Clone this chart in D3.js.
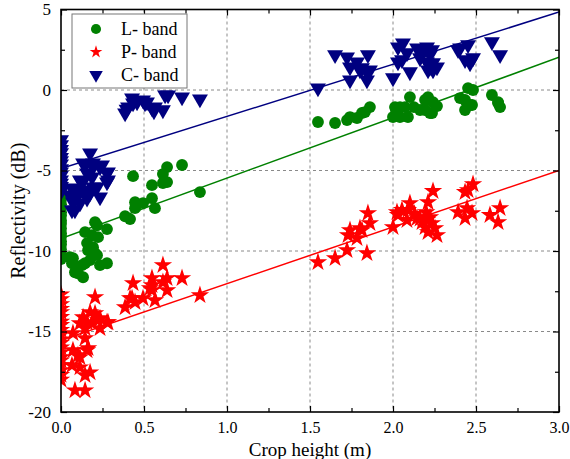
<!DOCTYPE html>
<html><head><meta charset="utf-8">
<script src="https://cdn.jsdelivr.net/npm/d3@7"></script>
<style>body{margin:0;background:#fff}svg{display:block}svg text{font-family:"Liberation Serif","Times New Roman",Times,serif !important}</style>
</head><body><svg id="c" width="570" height="459"></svg>
<script>
const bands = ["L- band", "P- band", "C- band"];
const bandColors = ["#008000", "#ff0000", "#000080"];
const fitIntercepts = [-9.22, -15.55, -4.88];
const fitSlopes = [3.75, 3.52, 3.24];
const xTickLabels = ["0.0","0.5","1.0","1.5","2.0","2.5","3.0"];
const yTickLabels = ["-20","-15","-10","-5","0","5"];

const lBand = [
 [0,-6.3],[0,-6.6],[0,-6.8],[0,-7.1],[0,-7.3],[0,-7.6],[0,-7.8],[0,-8.1],[0,-8.3],[0,-8.6],[0,-8.9],[0,-9.1],[0,-9.4],[0,-9.6],[0,-9.9],[0,-10.2],[0,-10.5],
 [0.205,-8.21],[0.277,-8.64],[0.145,-8.83],[0.187,-9.02],[0.223,-9.14],[0.157,-9.51],[0.163,-9.95],[0.205,-10.14],[0.072,-10.45],[0.096,-11.01],[0.127,-10.88],[0.175,-10.57],[0.235,-10.88],[0.277,-10.76],[0.084,-11.32],[0.133,-11.63],[0.102,-11.38],[0.066,-10.76],[0.217,-8.40],[0.193,-9.76],[0.217,-10.26],[0.054,-10.39],[0.145,-10.76],
 [0.434,-5.35],[0.639,-4.79],[0.614,-5.22],[0.729,-4.66],[0.548,-5.91],[0.614,-5.78],[0.639,-5.72],[0.837,-6.34],[0.446,-6.97],[0.494,-7.03],[0.548,-6.72],[0.446,-7.34],[0.566,-7.34],[0.386,-7.84],[0.416,-8.02],
 [1.548,-1.99],[1.651,-2.05],[1.723,-1.87],[1.741,-1.68],[1.783,-1.74],[1.813,-1.43],[1.861,-1.06],[1.831,-1.37],[2.012,-1.06],[2.0,-1.68],[2.042,-1.68],[2.090,-1.68],[2.102,-0.44],[2.042,-1.06],[2.072,-1.06],[2.163,-1.24],[2.205,-0.62],[2.211,-0.44],[2.241,-0.75],[2.265,-1.0],[2.193,-1.24],[2.235,-1.43],[2.404,-0.50],[2.452,0.12],[2.482,0.0],[2.434,-0.62],[2.464,-0.93],[2.434,-1.24],[2.596,-0.31],[2.633,-0.81],[2.645,-1.06],
 [2.018,-1.24],[2.126,-1.06],[2.193,-0.62],[2.223,-1.43],[2.476,-0.93],[2.633,-0.75]
];
const pBand = [
 [0,-12.7],[0,-13.0],[0,-13.3],[0,-13.6],[0,-13.8],[0,-14.1],[0,-14.4],[0,-14.6],[0,-14.9],[0,-15.2],[0,-15.5],[0,-15.7],[0,-16.0],[0,-16.3],[0,-16.6],[0,-16.8],[0,-17.1],[0,-17.4],[0,-17.7],[0,-18.0],
 [0.205,-12.87],[0.175,-13.81],[0.205,-13.87],[0.133,-14.12],[0.157,-14.43],[0.114,-14.49],[0.187,-14.49],[0.223,-14.30],[0.277,-14.43],[0.235,-14.80],[0.145,-14.80],[0.072,-15.11],[0.145,-15.42],[0.072,-16.17],[0.157,-16.17],[0.102,-16.48],[0.066,-17.10],[0.114,-17.23],[0.175,-17.54],[0.145,-17.72],[0.084,-18.66],[0.145,-18.66],[0.235,-14.18],[0.283,-14.43],[0.114,-16.60],[0.163,-16.04],
 [0.614,-10.88],[0.434,-12.00],[0.548,-11.69],[0.548,-12.13],[0.614,-11.94],[0.639,-11.69],[0.729,-11.69],[0.639,-12.44],[0.548,-12.44],[0.416,-12.94],[0.446,-13.18],[0.494,-12.94],[0.566,-13.06],[0.837,-12.75],[0.386,-13.50],[0.428,-12.94],[0.536,-12.31],
 [1.548,-10.70],[1.651,-10.45],[1.723,-9.95],[1.843,-10.14],[1.741,-8.71],[1.729,-9.02],[1.783,-9.20],[1.801,-8.58],[1.861,-8.27],[2.0,-8.52],[1.849,-7.65],[1.813,-8.71],[2.024,-7.59],[2.054,-7.46],[2.102,-7.03],[2.090,-7.46],[2.084,-8.08],[2.030,-7.77],[2.211,-6.97],[2.241,-6.28],[2.145,-7.96],[2.175,-8.21],[2.205,-8.08],[2.223,-7.90],[2.193,-8.52],[2.235,-8.27],[2.253,-8.58],[2.211,-8.83],[2.265,-9.02],[2.434,-6.34],[2.452,-6.22],[2.482,-5.85],[2.392,-7.59],[2.446,-7.34],[2.476,-7.65],[2.434,-7.96],[2.584,-7.77],[2.645,-7.34],[2.633,-8.21],[2.163,-8.0],[2.20,-7.6],[2.13,-7.7]
];
const cBand = [
 [0,-3.1],[0,-3.4],[0,-3.7],[0,-3.9],[0,-4.2],[0,-4.4],[0,-4.6],[0,-4.9],[0,-5.1],[0,-5.3],[0,-5.6],[0,-5.8],[0,-6.0],[0,-6.3],
 [0.175,-3.92],[0.145,-4.66],[0.193,-4.79],[0.247,-4.66],[0.283,-5.10],[0.277,-5.72],[0.235,-6.65],[0.157,-6.72],[0.114,-6.34],[0.072,-6.72],[0.084,-7.46],[0.054,-6.53],[0.187,-5.41],[0.127,-5.78],[0.217,-6.03],
 [0.133,-4.54],[0.193,-4.54],[0.235,-4.79],[0.277,-5.16],[0.283,-5.60],[0.157,-5.16],[0.114,-5.60],[0.066,-6.10],[0.096,-6.22],[0.133,-6.22],[0.175,-6.40],[0.072,-6.97],[0.066,-7.46],[0.114,-7.03],[0.193,-6.03],
 [0.386,-1.43],[0.428,-0.50],[0.458,-0.75],[0.494,-0.62],[0.518,-0.75],[0.548,-1.12],[0.566,-1.06],[0.614,-1.24],[0.627,-0.31],[0.645,-0.31],[0.729,-0.44],[0.837,-0.56],[0.404,-1.06],[0.506,-0.81],[0.434,-0.81],[0.56,-1.3],[0.395,-1.2],
 [1.548,0.12],[1.651,2.18],[1.723,2.05],[1.783,1.74],[1.741,1.43],[1.801,1.24],[1.849,2.18],[1.861,1.24],[1.741,0.62],[1.843,0.62],[2.0,0.75],[2.030,2.67],[2.060,2.92],[2.030,1.74],[2.102,1.12],[2.145,2.61],[2.181,2.49],[2.205,2.67],[2.235,2.49],[2.163,1.99],[2.205,1.74],[2.223,1.43],[2.241,1.24],[2.265,1.43],[2.392,2.49],[2.452,2.80],[2.434,1.87],[2.482,1.99],[2.464,1.68],[2.596,2.99],[2.645,2.18],
 [1.813,1.37],[1.843,1.12],[2.054,1.87],[2.084,2.30],[2.175,2.36],[2.223,2.18],[2.241,1.68],[2.211,1.24],[2.404,2.61]
];
const seriesData = [lBand, pBand, cBand];

const FONT = '"Liberation Serif","Times New Roman",Times,serif';
const svg = d3.select("#c");
const L = 61, R = 559, T = 9.5, B = 412;
const x = d3.scaleLinear().domain([0, 3]).range([L, R]);
const y = d3.scaleLinear().domain([-20, 5]).range([B, T]);
const xMaj = d3.range(0, 3.001, 0.5), xMin = d3.range(0.25, 3, 0.5);
const yMaj = d3.range(-20, 5.001, 5), yMin = d3.range(-17.5, 5, 5);

svg.append("defs").append("clipPath").attr("id","clip").append("rect")
  .attr("x", L).attr("y", T).attr("width", R - L).attr("height", B - T);

// grid
const grid = svg.append("g").attr("stroke", "#8a8a8a").attr("stroke-dasharray", "3,3").attr("stroke-width", 1);
xMaj.filter(v => v > 0 && v < 3).forEach(v => grid.append("line").attr("x1", x(v)).attr("x2", x(v)).attr("y1", T).attr("y2", B));
yMaj.filter(v => v > -20 && v < 5).forEach(v => grid.append("line").attr("x1", L).attr("x2", R).attr("y1", y(v)).attr("y2", y(v)));

// markers
const symbols = [
  d3.symbol().type(d3.symbolCircle).size(110),
  d3.symbol().type(d3.symbolStar).size(105),
  d3.symbol().type(d3.symbolTriangle).size(110)
];
const plot = svg.append("g").attr("clip-path", "url(#clip)");
seriesData.forEach((data, i) => {
  plot.append("g").selectAll("path").data(data).join("path")
    .attr("d", symbols[i]())
    .attr("fill", bandColors[i])
    .attr("transform", d => `translate(${x(d[0])},${y(d[1])})` + (i === 2 ? " rotate(180)" : ""));
});
// fit lines
bands.forEach((b, i) => {
  plot.append("line")
    .attr("x1", x(0)).attr("y1", y(fitIntercepts[i]))
    .attr("x2", x(3)).attr("y2", y(fitIntercepts[i] + fitSlopes[i] * 3))
    .attr("stroke", bandColors[i]).attr("stroke-width", 1.5);
});

// axes (inward ticks, mirrored)
function ax(gen, tr) {
  const g = svg.append("g").attr("transform", tr).call(gen);
  g.select(".domain").remove();
  g.attr("font-family", FONT);
  g.selectAll("line").attr("stroke", "#000").attr("stroke-width", 1.2);
  return g;
}
const bx = ax(d3.axisBottom(x).tickValues(xMaj).tickSizeInner(-6).tickSizeOuter(0).tickPadding(10).tickFormat((d, i) => xTickLabels[i]), `translate(0,${B})`);
bx.selectAll("text").attr("fill", "#000").style("font-size", "16px").style("font-family", FONT);
ax(d3.axisBottom(x).tickValues(xMin).tickSizeInner(-4).tickSizeOuter(0).tickFormat(""), `translate(0,${B})`);
ax(d3.axisTop(x).tickValues(xMaj).tickSizeInner(-6).tickSizeOuter(0).tickFormat(""), `translate(0,${T})`);
ax(d3.axisTop(x).tickValues(xMin).tickSizeInner(-4).tickSizeOuter(0).tickFormat(""), `translate(0,${T})`);
const ly = ax(d3.axisLeft(y).tickValues(yMaj).tickSizeInner(-6).tickSizeOuter(0).tickPadding(10).tickFormat((d, i) => yTickLabels[i]), `translate(${L},0)`);
ly.selectAll("text").attr("fill", "#000").style("font-size", "17px").style("font-family", FONT);
ax(d3.axisLeft(y).tickValues(yMin).tickSizeInner(-4).tickSizeOuter(0).tickFormat(""), `translate(${L},0)`);
ax(d3.axisRight(y).tickValues(yMaj).tickSizeInner(-6).tickSizeOuter(0).tickFormat(""), `translate(${R},0)`);
ax(d3.axisRight(y).tickValues(yMin).tickSizeInner(-4).tickSizeOuter(0).tickFormat(""), `translate(${R},0)`);

svg.append("rect").attr("x", L).attr("y", T).attr("width", R - L).attr("height", B - T)
  .attr("fill", "none").attr("stroke", "#000").attr("stroke-width", 1.6);

// titles
svg.append("text").attr("x", (L + R) / 2).attr("y", 456).attr("text-anchor", "middle")
  .style("font-family", FONT).style("font-size", "19px").text("Crop height (m)");
svg.append("text").attr("transform", `translate(25,${(T + B) / 2}) rotate(-90)`).attr("text-anchor", "middle")
  .style("font-family", FONT).style("font-size", "20px").text("Reflectivity (dB)");

// legend
const lg = svg.append("g");
lg.append("rect").attr("x", 72).attr("y", 14).attr("width", 115).attr("height", 74)
  .attr("fill", "#fff").attr("stroke", "#777").attr("stroke-width", 1);
const legSym = [
  d3.symbol().type(d3.symbolCircle).size(80),
  d3.symbol().type(d3.symbolStar).size(50),
  d3.symbol().type(d3.symbolTriangle).size(80)
];
bands.forEach((b, i) => {
  const cy = 29 + i * 23;
  lg.append("path").attr("d", legSym[i]()).attr("fill", bandColors[i])
    .attr("transform", `translate(96,${cy})` + (i === 2 ? " rotate(180)" : ""));
  lg.append("text").attr("x", 121).attr("y", cy + 6).style("font-family", FONT).style("font-size", "18px").text(b);
});
</script></body></html>
